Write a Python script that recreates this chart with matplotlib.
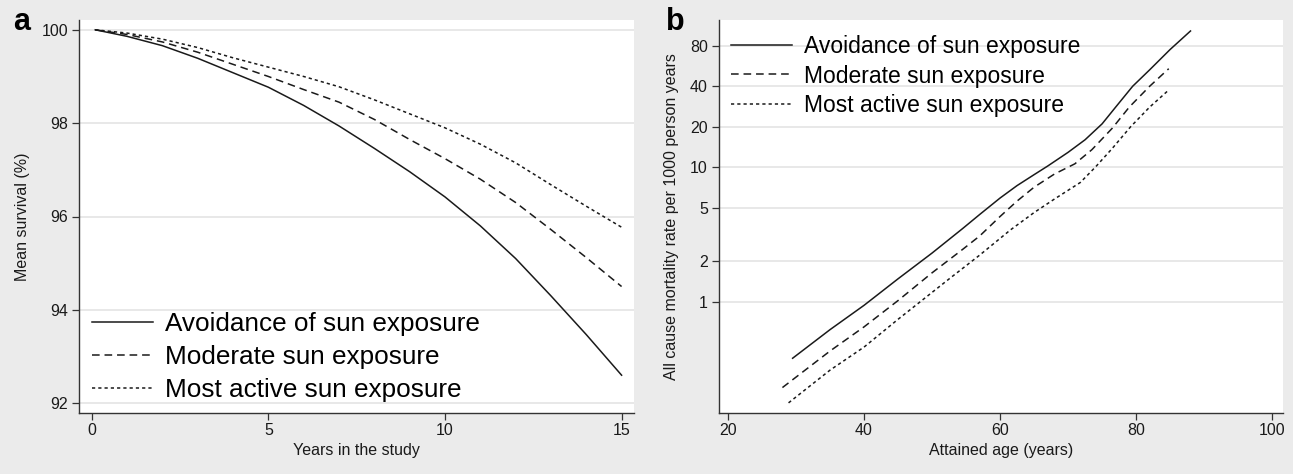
import matplotlib
matplotlib.use("Agg")
import matplotlib.pyplot as plt

plt.rcParams['font.family'] = ['Liberation Sans', 'DejaVu Sans']

# panel a: mean survival (%) by years in the study
years = [0.1, 1, 2, 3, 4, 5, 6, 7, 8, 9, 10, 11, 12, 13, 14, 15]
surv_avoid = [100, 99.86, 99.66, 99.39, 99.08, 98.77, 98.38, 97.94, 97.46,
              96.96, 96.42, 95.8, 95.1, 94.3, 93.47, 92.6]
surv_moderate = [100, 99.9, 99.74, 99.52, 99.26, 99.0, 98.72, 98.45, 98.08,
                 97.65, 97.24, 96.8, 96.3, 95.72, 95.12, 94.5]
surv_active = [100, 99.93, 99.8, 99.62, 99.4, 99.2, 99.0, 98.78, 98.5,
               98.2, 97.9, 97.55, 97.15, 96.68, 96.22, 95.77]

# panel b: all cause mortality rate per 1000 person years by attained age
age_avoid = [29.5, 35, 40, 45, 50, 54.5, 57, 60, 62.5, 65, 67, 70, 72.5,
             75, 77, 79.5, 82, 85, 88]
rate_avoid = [0.38, 0.62, 0.94, 1.48, 2.3, 3.5, 4.45, 5.9, 7.3, 8.8, 10.2,
              12.9, 16.0, 21.0, 28.0, 40, 53, 75, 103]
age_moderate = [28, 35, 40, 45, 50, 54.5, 57, 60, 62.5, 65, 68, 71, 73.5,
                76.5, 79, 82, 84.8]
rate_moderate = [0.23, 0.43, 0.65, 1.02, 1.64, 2.45, 3.08, 4.3, 5.6, 7.1,
                 8.9, 10.6, 13.5, 19.5, 28, 40, 54]
age_active = [28.9, 35, 40, 45, 52.6, 57, 61.5, 65, 68, 71.8, 74, 76.5,
              79.2, 82, 84.8]
rate_active = [0.177, 0.31, 0.46, 0.74, 1.49, 2.22, 3.41, 4.6, 5.8, 7.7,
               10.0, 13.8, 20, 28, 37.5]

labels = ['Avoidance of sun exposure', 'Moderate sun exposure',
          'Most active sun exposure']

BG = '#ebebeb'
INK = '#1a1a1a'
W, H = 1293, 474

fig = plt.figure(figsize=(W / 100, H / 100), dpi=100, facecolor=BG)


def px_axes(x0, x1, y0, y1):
    return fig.add_axes([x0 / W, (H - y1) / H, (x1 - x0) / W, (y1 - y0) / H])


def style(ax):
    ax.set_facecolor('white')
    for s in ('top', 'right'):
        ax.spines[s].set_visible(False)
    for s in ('left', 'bottom'):
        ax.spines[s].set_color('#333333')
        ax.spines[s].set_linewidth(1.0)
    ax.tick_params(axis='both', direction='out', length=5, width=0.9,
                   color='#333333', labelsize=11.5, labelcolor=INK)
    ax.tick_params(axis='x', pad=2)
    ax.tick_params(axis='y', pad=3)
    ax.grid(axis='y', color='#e8e8e8', lw=1.4)
    ax.set_axisbelow(True)


def draw(ax, xs, ys):
    kw = dict(color=INK, lw=1.1)
    ax.plot(xs[0], ys[0], ls='-', label=labels[0], **kw)
    ax.plot(xs[1], ys[1], dashes=(5, 3.2), label=labels[1], **kw)
    ax.plot(xs[2], ys[2], dashes=(2.1, 2.0), label=labels[2], **kw)


# ---- panel a
ax1 = px_axes(79, 633.6, 20, 413)
style(ax1)
draw(ax1, [years] * 3, [surv_avoid, surv_moderate, surv_active])
ax1.set_xlim(-0.36, 15.34)
ax1.set_ylim(91.79, 100.21)
ax1.set_xticks([0, 5, 10, 15])
ax1.set_yticks([92, 94, 96, 98, 100])
ax1.set_xlabel('Years in the study', fontsize=11.5, color=INK, labelpad=4)
ax1.set_ylabel('Mean survival (%)', fontsize=11.5, color=INK, labelpad=8)
ax1.legend(loc='center left', bbox_to_anchor=(0.0234, 0.143), frameon=False,
           fontsize=18.8, handlelength=2.35, handletextpad=0.44,
           labelspacing=0.35, borderpad=0, borderaxespad=0)

# ---- panel b
ax2 = px_axes(718.9, 1283, 20, 413)
style(ax2)
draw(ax2, [age_avoid, age_moderate, age_active],
     [rate_avoid, rate_moderate, rate_active])
ax2.set_yscale('log')
ax2.set_xlim(18.66, 101.6)
ax2.set_ylim(0.1488, 124.3)
ax2.set_xticks([20, 40, 60, 80, 100])
ax2.set_yticks([1, 2, 5, 10, 20, 40, 80])
ax2.set_yticklabels(['1', '2', '5', '10', '20', '40', '80'])
ax2.yaxis.set_minor_locator(matplotlib.ticker.NullLocator())
ax2.set_xlabel('Attained age (years)', fontsize=11.5, color=INK, labelpad=4)
ax2.set_ylabel('All cause mortality rate per 1000 person years',
               fontsize=11.5, color=INK, labelpad=8)
ax2.legend(loc='center left', bbox_to_anchor=(0.0214, 0.8575), frameon=False,
           fontsize=16.5, handlelength=2.66, handletextpad=0.52,
           labelspacing=0.28, borderpad=0, borderaxespad=0)

# panel letters
fig.text(13 / W, (H - 30) / H, 'a', fontsize=22, fontweight='bold',
         color='black', va='baseline')
fig.text(666 / W, (H - 30) / H, 'b', fontsize=22, fontweight='bold',
         color='black', va='baseline')

fig.savefig('out.png', dpi=100, facecolor=BG)
